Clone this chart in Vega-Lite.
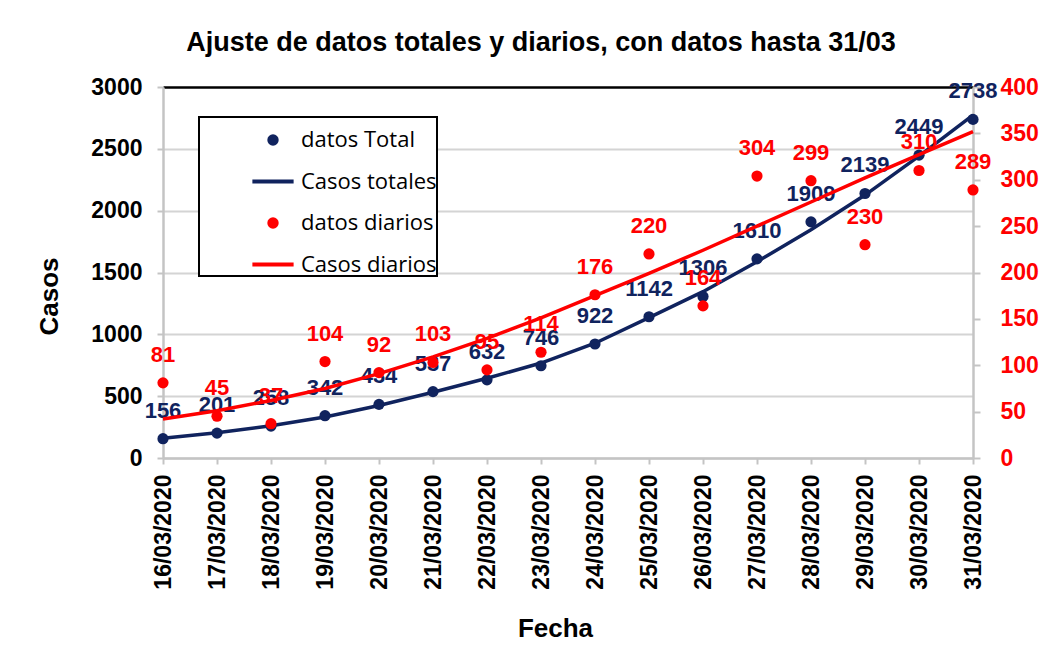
{
  "$schema": "https://vega.github.io/schema/vega-lite/v6.json",
  "width": 810,
  "height": 371,
  "autosize": {"type": "none"},
  "padding": {"left": 163, "top": 87, "right": 91, "bottom": 190},
  "background": "white",
  "title": {
    "text": "Ajuste de datos totales y diarios, con datos hasta 31/03",
    "font": "Liberation Sans",
    "fontSize": 27,
    "fontWeight": "bold",
    "color": "black",
    "anchor": "middle",
    "frame": "group",
    "baseline": "alphabetic",
    "offset": -2,
    "dx": -27
  },
  "config": {
    "view": {"stroke": null},
    "font": "Liberation Sans",
    "axisBottom": {
      "labelAngle": -90,
      "labelFont": "Liberation Sans",
      "labelFontSize": 23,
      "labelFontWeight": "bold",
      "labelColor": "black",
      "labelPadding": 10,
      "tickSize": 6,
      "tickColor": "#c4c4c4",
      "tickWidth": 2,
      "domainColor": "#c4c4c4",
      "domainWidth": 2.5,
      "grid": false,
      "titleFont": "Liberation Sans",
      "titleFontSize": 26,
      "titleFontWeight": "bold",
      "titleColor": "black",
      "titleAlign": "center",
      "titleBaseline": "alphabetic",
      "titleX": 392,
      "titleY": 178
    },
    "axisLeft": {
      "labelFont": "Liberation Sans",
      "labelFontSize": 23,
      "labelFontWeight": "bold",
      "labelColor": "black",
      "labelPadding": 15,
      "tickSize": 6,
      "tickColor": "#c4c4c4",
      "tickWidth": 2,
      "domainColor": "#c4c4c4",
      "domainWidth": 2.5,
      "grid": true,
      "titleFont": "Liberation Sans",
      "titleFontSize": 26,
      "titleFontWeight": "bold",
      "titleColor": "black",
      "titleAngle": -90,
      "titleAlign": "center",
      "titleBaseline": "alphabetic",
      "titleX": -106,
      "titleY": 209
    },
    "axisRight": {
      "labelFont": "Liberation Sans",
      "labelFontSize": 23,
      "labelFontWeight": "bold",
      "labelColor": "#ff0000",
      "labelPadding": 20,
      "tickSize": 7,
      "tickColor": "#c4c4c4",
      "tickWidth": 2,
      "domainColor": "#c4c4c4",
      "domainWidth": 2.5,
      "grid": false
    }
  },
  "data": {
    "values": [
      {"fecha": "16/03/2020", "total": 156, "diario": 81, "ajuste_total": 160, "ajuste_diario": 42},
      {"fecha": "17/03/2020", "total": 201, "diario": 45, "ajuste_total": 205, "ajuste_diario": 51},
      {"fecha": "18/03/2020", "total": 258, "diario": 37, "ajuste_total": 260, "ajuste_diario": 62},
      {"fecha": "19/03/2020", "total": 342, "diario": 104, "ajuste_total": 332, "ajuste_diario": 75},
      {"fecha": "20/03/2020", "total": 434, "diario": 92, "ajuste_total": 425, "ajuste_diario": 91},
      {"fecha": "21/03/2020", "total": 537, "diario": 103, "ajuste_total": 532, "ajuste_diario": 109},
      {"fecha": "22/03/2020", "total": 632, "diario": 95, "ajuste_total": 645, "ajuste_diario": 129},
      {"fecha": "23/03/2020", "total": 746, "diario": 114, "ajuste_total": 768, "ajuste_diario": 151},
      {"fecha": "24/03/2020", "total": 922, "diario": 176, "ajuste_total": 928, "ajuste_diario": 175},
      {"fecha": "25/03/2020", "total": 1142, "diario": 220, "ajuste_total": 1135, "ajuste_diario": 199},
      {"fecha": "26/03/2020", "total": 1306, "diario": 164, "ajuste_total": 1345, "ajuste_diario": 224},
      {"fecha": "27/03/2020", "total": 1610, "diario": 304, "ajuste_total": 1587, "ajuste_diario": 250},
      {"fecha": "28/03/2020", "total": 1909, "diario": 299, "ajuste_total": 1845, "ajuste_diario": 276},
      {"fecha": "29/03/2020", "total": 2139, "diario": 230, "ajuste_total": 2126, "ajuste_diario": 302},
      {"fecha": "30/03/2020", "total": 2449, "diario": 310, "ajuste_total": 2441, "ajuste_diario": 327},
      {"fecha": "31/03/2020", "total": 2738, "diario": 289, "ajuste_total": 2773, "ajuste_diario": 352}
    ]
  },
  "encoding": {
    "x": {
      "field": "fecha",
      "type": "ordinal",
      "sort": null,
      "title": "Fecha",
      "scale": {"type": "point", "padding": 0},
      "axis": {"orient": "bottom"}
    }
  },
  "layer": [
    {
      "layer": [
        {
          "mark": {"type": "line", "strokeWidth": 3.5},
          "encoding": {
            "y": {"field": "ajuste_total", "type": "quantitative", "title": "Casos", "scale": {"domain": [0, 3000]}, "axis": {"orient": "left", "format": "d", "values": [0, 500, 1000, 1500, 2000, 2500, 3000], "gridColor": {"condition": {"test": "datum.value === 3000", "value": "black"}, "value": "#d4d4d4"}, "gridWidth": {"condition": {"test": "datum.value === 3000", "value": 2.5}, "value": 2}}},
            "color": {
              "datum": "Casos totales",
              "type": "nominal",
              "scale": {
                "domain": ["datos Total", "Casos totales", "datos diarios", "Casos diarios"],
                "range": ["#10235e", "#10235e", "#ff0000", "#ff0000"]
              },
              "legend": {
                "orient": "none",
                "legendX": 36,
                "legendY": 30,
                "title": null,
                "padding": 0,
                "symbolOffset": 51,
                "labelOffset": 5,
                "symbolSize": 1700,
                "symbolType": "stroke",
                "symbolStrokeWidth": 4,
                "rowPadding": 7.5,
                "labelFont": "Open Sans",
                "labelFontSize": 22,
                "labelColor": "black",
                "labelLimit": 400,
                "fillColor": "white",
                "strokeColor": "black",
                "labelExpr": "datum.label + '         '",
                "encode": {
                  "legend": {"update": {"strokeWidth": {"value": 2}}},
                  "symbols": {
                    "enter": {
                      "size": {"value": 1700},
                      "strokeWidth": {"value": 4}
                    },
                    "update": {
                      "shape": {"signal": "(indexof('' + datum.value, 'datos') === 0 ? 'circle' : 'stroke')"},
                      "size": {"signal": "(indexof('' + datum.value, 'datos') === 0 ? 130 : 1700)"},
                      "fill": {"signal": "(indexof('' + datum.value, 'datos') === 0 ? (indexof('' + datum.value, 'diario') >= 0 ? '#ff0000' : '#10235e') : 'transparent')"},
                      "strokeWidth": {"signal": "(indexof('' + datum.value, 'datos') === 0 ? 0 : 4)"}
                    }
                  }
                }
              }
            }
          }
        },
        {
          "mark": {"type": "point", "filled": true, "size": 125, "opacity": 1},
          "encoding": {
            "y": {"field": "total", "type": "quantitative", "title": "Casos", "scale": {"domain": [0, 3000]}, "axis": {"orient": "left", "format": "d", "values": [0, 500, 1000, 1500, 2000, 2500, 3000], "gridColor": {"condition": {"test": "datum.value === 3000", "value": "black"}, "value": "#d4d4d4"}, "gridWidth": {"condition": {"test": "datum.value === 3000", "value": 2.5}, "value": 2}}},
            "color": {"datum": "datos Total", "type": "nominal"}
          }
        },
        {
          "mark": {"type": "text", "dy": -28, "baseline": "middle", "align": "center", "font": "Liberation Sans", "fontSize": 22, "fontWeight": "bold", "color": "#10235e"},
          "encoding": {
            "y": {"field": "total", "type": "quantitative", "title": "Casos", "scale": {"domain": [0, 3000]}, "axis": {"orient": "left", "format": "d", "values": [0, 500, 1000, 1500, 2000, 2500, 3000], "gridColor": {"condition": {"test": "datum.value === 3000", "value": "black"}, "value": "#d4d4d4"}, "gridWidth": {"condition": {"test": "datum.value === 3000", "value": 2.5}, "value": 2}}},
            "text": {"field": "total", "type": "quantitative"}
          }
        }
      ]
    },
    {
      "layer": [
        {
          "mark": {"type": "line", "strokeWidth": 3.5},
          "encoding": {
            "y": {"field": "ajuste_diario", "type": "quantitative", "title": null, "scale": {"domain": [0, 400]}, "axis": {"orient": "right", "values": [0, 50, 100, 150, 200, 250, 300, 350, 400]}},
            "color": {"datum": "Casos diarios", "type": "nominal"}
          }
        },
        {
          "mark": {"type": "point", "filled": true, "size": 125, "opacity": 1},
          "encoding": {
            "y": {"field": "diario", "type": "quantitative", "title": null, "scale": {"domain": [0, 400]}, "axis": {"orient": "right", "values": [0, 50, 100, 150, 200, 250, 300, 350, 400]}},
            "color": {"datum": "datos diarios", "type": "nominal"}
          }
        },
        {
          "mark": {"type": "text", "dy": -28, "baseline": "middle", "align": "center", "font": "Liberation Sans", "fontSize": 22, "fontWeight": "bold", "color": "#ff0000"},
          "encoding": {
            "y": {"field": "diario", "type": "quantitative", "title": null, "scale": {"domain": [0, 400]}, "axis": {"orient": "right", "values": [0, 50, 100, 150, 200, 250, 300, 350, 400]}},
            "text": {"field": "diario", "type": "quantitative"}
          }
        }
      ]
    }
  ],
  "resolve": {"scale": {"y": "independent"}, "axis": {"y": "independent"}}
}
